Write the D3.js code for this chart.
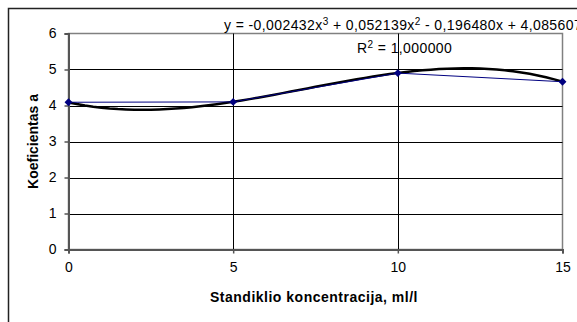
<!DOCTYPE html>
<html>
<head>
<meta charset="utf-8">
<script src="https://cdn.jsdelivr.net/npm/d3@7"></script>
<style>
  html, body { margin: 0; padding: 0; background: #fff; }
  svg { display: block; font-family: "Liberation Sans", Arial, sans-serif; }
</style>
</head>
<body>
<div id="chart"></div>
<script>
// duomenys
const xValues = [0, 5, 10, 15];
const yValues = [4.09, 4.10, 4.90, 4.66];
const xTicks = [0, 5, 10, 15];
const yTicks = [0, 1, 2, 3, 4, 5, 6];
// trendo koeficientai (x^3, x^2, x, laisvasis)
const trendCoefs = [-0.002432, 0.052139, -0.196480, 4.085607];
const eqText = ["y = -0,002432x", "3", " + 0,052139x", "2", " - 0,196480x + 4,085607"];
const r2Text = "1,000000";

const width = 577, height = 322;
const margin = { left: 68.5, right: 14.5, top: 33.5, bottom: 72.5 };

const svg = d3.select("#chart").append("svg")
    .attr("width", width)
    .attr("height", height);

// išorinis rėmelis
svg.append("rect")
    .attr("x", 8.5).attr("y", 8.5)
    .attr("width", width + 20).attr("height", height + 20)
    .attr("fill", "none")
    .attr("stroke", "#222")
    .attr("stroke-width", 1.5);

const x = d3.scaleLinear().domain([0, 15]).range([margin.left, width - margin.right]);
const y = d3.scaleLinear().domain([0, 6]).range([height - margin.bottom, margin.top]);

// plot area rėmelis
svg.append("rect")
    .attr("x", x(0)).attr("y", y(6))
    .attr("width", x(15) - x(0)).attr("height", y(0) - y(6))
    .attr("fill", "#fff")
    .attr("stroke", "#808080")
    .attr("stroke-width", 1.5);

// tinklelis
const grid = svg.append("g");
grid.selectAll(".hg").data(yTicks.filter(d => d > 0 && d < 6)).enter().append("line")
    .attr("x1", x(0)).attr("x2", x(15))
    .attr("y1", d => Math.round(y(d)) + 0.5).attr("y2", d => Math.round(y(d)) + 0.5)
    .attr("stroke", "#000").attr("stroke-width", 1);
grid.selectAll(".vg").data(xTicks.filter(d => d > 0 && d < 15)).enter().append("line")
    .attr("y1", y(0)).attr("y2", y(6))
    .attr("x1", d => Math.round(x(d)) + 0.5).attr("x2", d => Math.round(x(d)) + 0.5)
    .attr("stroke", "#000").attr("stroke-width", 1);

// ašys
const xAxis = svg.append("g")
    .attr("transform", `translate(0,${y(0)})`)
    .call(d3.axisBottom(x).tickValues(xTicks).tickFormat(d3.format("d")).tickSize(4).tickPadding(9));
const yAxis = svg.append("g")
    .attr("transform", `translate(${x(0)},0)`)
    .call(d3.axisLeft(y).tickValues(yTicks).tickFormat(d3.format("d")).tickSize(4).tickPadding(8));

[xAxis, yAxis].forEach(a => {
    a.select(".domain").attr("stroke", "#555").attr("stroke-width", 2);
    a.selectAll(".tick line").attr("stroke", "#555").attr("stroke-width", 1.5);
    a.selectAll("text").attr("font-size", 14).attr("fill", "#000")
        .attr("font-family", "Liberation Sans, Arial, sans-serif");
});

// trendo linija pagal lygtį
const poly = t => trendCoefs[0] * t * t * t + trendCoefs[1] * t * t + trendCoefs[2] * t + trendCoefs[3];
const trendPts = d3.range(0, 15.01, 0.25).map(t => [t, poly(t)]);
svg.append("path")
    .datum(trendPts)
    .attr("fill", "none")
    .attr("stroke", "#000")
    .attr("stroke-width", 2.5)
    .attr("d", d3.line().x(d => x(d[0])).y(d => y(d[1])));

// duomenų serija
const pts = xValues.map((v, i) => [v, yValues[i]]);
svg.append("path")
    .datum(pts)
    .attr("fill", "none")
    .attr("stroke", "#000080")
    .attr("stroke-width", 1)
    .attr("d", d3.line().x(d => x(d[0])).y(d => y(d[1])));
svg.selectAll(".pt").data(pts).enter().append("path")
    .attr("transform", d => `translate(${x(d[0])},${y(d[1])})`)
    .attr("d", d3.symbol(d3.symbolDiamond2, 40))
    .attr("fill", "#000080");

// lygtis
const eq = svg.append("text")
    .attr("x", 224).attr("y", 30)
    .attr("font-size", 14).attr("fill", "#000")
    .attr("letter-spacing", 0.4);
eqText.forEach((s, i) => {
    if (i % 2 === 1) {
        eq.append("tspan").attr("dy", -5).attr("font-size", 10).text(s);
    } else {
        eq.append("tspan").attr("dy", i > 0 ? 5 : 0).text(s);
    }
});
const r2 = svg.append("text")
    .attr("x", 357).attr("y", 53)
    .attr("font-size", 14).attr("fill", "#000")
    .attr("letter-spacing", 0.4);
r2.append("tspan").text("R");
r2.append("tspan").attr("dy", -5).attr("font-size", 10).text("2");
r2.append("tspan").attr("dy", 5).text(" = " + r2Text);

// ašių pavadinimai
svg.append("text")
    .attr("x", 314).attr("y", 302)
    .attr("text-anchor", "middle")
    .attr("font-size", 14).attr("font-weight", "bold")
    .attr("letter-spacing", 0.5)
    .text("Standiklio koncentracija, ml/l");
svg.append("text")
    .attr("transform", `translate(38,${(y(0) + y(6)) / 2}) rotate(-90)`)
    .attr("text-anchor", "middle")
    .attr("font-size", 14).attr("font-weight", "bold")
    .text("Koeficientas a");
</script>
</body>
</html>
